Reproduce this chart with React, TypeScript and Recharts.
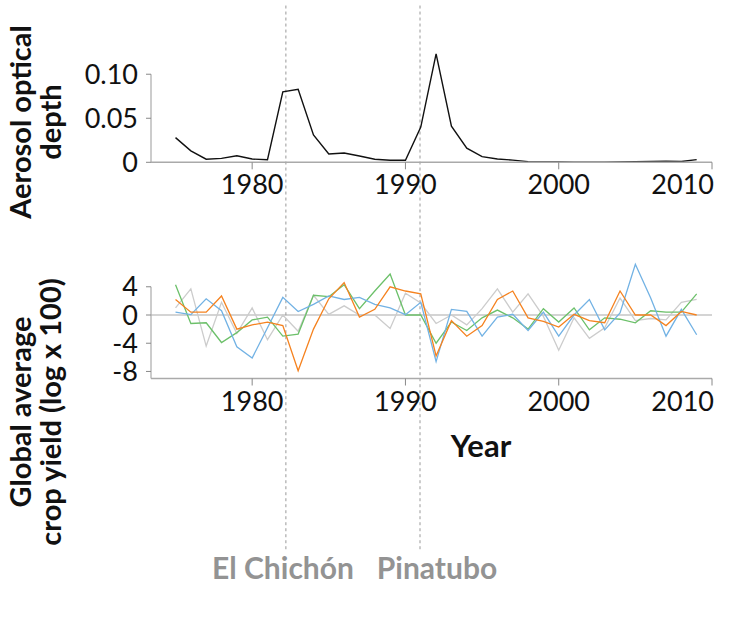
import React from "react";
import { LineChart, Line, XAxis, YAxis, ReferenceLine } from "recharts";

const years = [
  1975, 1976, 1977, 1978, 1979, 1980, 1981, 1982, 1983, 1984, 1985, 1986, 1987, 1988, 1989, 1990, 1991, 1992,
  1993, 1994, 1995, 1996, 1997, 1998, 1999, 2000, 2001, 2002, 2003, 2004, 2005, 2006, 2007, 2008, 2009,
];

const aerosolDepth = [
  0.028, 0.013, 0.0035, 0.0045, 0.0075, 0.0037, 0.003, 0.08, 0.083, 0.031, 0.0094, 0.0105, 0.0072, 0.0034,
  0.0023, 0.0023, 0.04, 0.123, 0.041, 0.016, 0.0064, 0.0037, 0.0025, 0.0008, 0.0004, 0.0003, 0.0002, 0.0001,
  0.0002, 0.0003, 0.0006, 0.001, 0.0013, 0.0009, 0.003,
];

const yieldBlue = [
  0.4, 0.05, 2.3, 0.6, -4.5, -6.1, -1.8, 2.5, 0.5, 1.5, 2.7, 2.2, 2.5, 1.5, 1.0, 0.05, 1.8, -6.6, 0.8, 0.5,
  -3.0, -0.3, 0.1, -2.2, 0.4, -3.0, 0, 2.2, -2.1, 0.3, 7.2, 2.4, -3.0, 0.8, -2.8,
];
const yieldOrange = [
  2.2, 0.4, 0.4, 2.7, -2.0, -1.4, -1.0, -1.5, -7.9, -2.0, 2.3, 4.6, -0.3, 0.8, 4.0, 3.4, 3.0, -5.8, -0.8,
  -3.0, -1.5, 2.2, 3.4, -0.4, -0.9, -1.7, 0.1, -0.8, -1.1, 3.4, 0, 0, -1.5, 0.5, 0,
];
const yieldGreen = [
  4.3, -1.2, -1.1, -3.9, -2.5, -0.7, -0.3, -3.0, -2.7, 2.8, 2.6, 4.3, 0.9, 3.4, 5.8, 0, 0, -4.0, -1.0, -2.2,
  -0.4, 0.7, -0.4, -2.0, 0.9, -1.0, 1.0, -2.1, -0.4, -0.6, -1.1, 0.6, 0.4, 0.4, 3.0,
];
const yieldGray = [
  1.0, 3.7, -4.4, 1.8, -2.6, 1.0, -3.5, 0, -2.3, 2.8, 0.1, 1.3, 0, 0, -1.9, 3.1, 1.7, -1.2, 0, -1.4, 0.9,
  3.7, 0.4, 3.0, -0.2, -5.0, -0.4, -3.3, -1.8, 2.4, -0.8, -0.5, -0.7, 1.8, 2.2,
];

const yearTicks = [1980, 1990, 2000, 2010];
const aerosolTicks = [0, 0.05, 0.1];
const yieldTicks = [4, 0, -4, -8];
const eruptions = [
  { name: "El Chichón", year: 1982.2 },
  { name: "Pinatubo", year: 1990.95 },
];

const rows = years.map((year, i) => ({
  year,
  aod: aerosolDepth[i],
  blue: yieldBlue[i],
  orange: yieldOrange[i],
  green: yieldGreen[i],
  gray: yieldGray[i],
}));

const xDomain: [number, number] = [1973.4, 2010];
const axisGray = "#aaaaaa";
const tickFont = { fill: "#111", fontSize: 27, fontFamily: "Lato" };

// last year label sits flush against the end of the axis, like the original
function YearTick(props: any) {
  const { x, y, payload } = props;
  const last = payload.value === xDomain[1];
  return (
    <text
      x={last ? x + 2 : x}
      y={y}
      dy="0.71em"
      textAnchor={last ? "end" : "middle"}
      fill={tickFont.fill}
      fontSize={tickFont.fontSize}
      fontFamily={tickFont.fontFamily}
    >
      {payload.value}
    </text>
  );
}

const labelStyle: React.CSSProperties = {
  position: "absolute",
  transform: "translate(-50%, -50%)",
  whiteSpace: "nowrap",
  fontFamily: "Lato",
  fontWeight: 700,
  lineHeight: 1,
};

const rotatedStyle: React.CSSProperties = {
  ...labelStyle,
  transform: "translate(-50%, -50%) rotate(-90deg)",
  textAlign: "center",
  fontSize: 29,
  lineHeight: "30px",
  color: "#111",
};

export default function App() {
  return (
    <div style={{ position: "absolute", left: 0, top: 0, width: 730, height: 618, background: "#fff", fontFamily: "Lato" }}>
      <div style={{ position: "absolute", left: 0, top: 0 }}>
        <LineChart width={730} height={230} data={rows} margin={{ top: 39, right: 18, bottom: 27.7, left: 71 }}>
          <XAxis
            dataKey="year"
            type="number"
            domain={xDomain}
            ticks={yearTicks}
            interval={0}
            tick={<YearTick />}
            tickSize={7}
            tickMargin={6}
            height={40}
            axisLine={{ stroke: axisGray, strokeWidth: 1.5 }}
            tickLine={{ stroke: "#888" }}
          />
          <YAxis
            type="number"
            domain={[0, 0.14]}
            ticks={aerosolTicks}
            interval={0}
            tickFormatter={(v: number) => (v === 0 ? "0" : v.toFixed(2))}
            tick={tickFont}
            tickSize={5}
            tickMargin={8}
            width={80}
            axisLine={false}
            tickLine={{ stroke: "#888" }}
          />
          <ReferenceLine
            segment={[
              { x: xDomain[0], y: 0 },
              { x: xDomain[0], y: 0.1 },
            ]}
            stroke="#999"
            ifOverflow="visible"
          />
          {eruptions.map((e) => (
            <ReferenceLine
              key={e.name}
              segment={[
                { x: e.year, y: 0.178 },
                { x: e.year, y: -0.1 },
              ]}
              stroke="#999"
              strokeDasharray="3 3"
              ifOverflow="visible"
            />
          ))}
          <Line dataKey="aod" stroke="#111" strokeWidth={1.4} dot={false} isAnimationActive={false} />
        </LineChart>
      </div>

      <div style={{ position: "absolute", left: 0, top: 230 }}>
        <LineChart width={730} height={388} data={rows} margin={{ top: 21.5, right: 18, bottom: 199.5, left: 71 }}>
          <XAxis
            dataKey="year"
            type="number"
            domain={xDomain}
            ticks={yearTicks}
            interval={0}
            tick={<YearTick />}
            tickSize={7}
            tickMargin={6}
            height={40}
            axisLine={{ stroke: axisGray, strokeWidth: 1.5 }}
            tickLine={{ stroke: "#888" }}
          />
          <YAxis
            type="number"
            domain={[-9, 9]}
            ticks={yieldTicks}
            interval={0}
            tick={tickFont}
            tickSize={5}
            tickMargin={8}
            width={80}
            axisLine={false}
            tickLine={{ stroke: "#888" }}
          />
          <ReferenceLine
            segment={[
              { x: xDomain[0], y: -9 },
              { x: xDomain[0], y: 4 },
            ]}
            stroke="#999"
            ifOverflow="visible"
          />
          <ReferenceLine y={0} stroke={axisGray} strokeWidth={1.2} />
          {eruptions.map((e) => (
            <ReferenceLine
              key={e.name}
              segment={[
                { x: e.year, y: 14 },
                { x: e.year, y: -33.6 },
              ]}
              stroke="#999"
              strokeDasharray="3 3"
              ifOverflow="visible"
            />
          ))}
          <Line dataKey="gray" stroke="#cccccc" strokeWidth={1.3} dot={false} isAnimationActive={false} />
          <Line dataKey="green" stroke="#6cc06a" strokeWidth={1.3} dot={false} isAnimationActive={false} />
          <Line dataKey="blue" stroke="#72b2e4" strokeWidth={1.3} dot={false} isAnimationActive={false} />
          <Line dataKey="orange" stroke="#f5821f" strokeWidth={1.3} dot={false} isAnimationActive={false} />
        </LineChart>
      </div>

      <div style={{ ...rotatedStyle, left: 35, top: 122 }}>
        Aerosol optical
        <br />
        depth
      </div>
      <div style={{ ...rotatedStyle, left: 35, top: 412 }}>
        Global average
        <br />
        crop yield (log x 100)
      </div>
      <div style={{ ...labelStyle, left: 481, top: 445, fontSize: 31, color: "#111" }}>Year</div>
      {eruptions.map((e, i) => (
        <div key={e.name} style={{ ...labelStyle, left: i === 0 ? 283 : 437, top: 567, fontSize: 30, color: "#939393" }}>
          {e.name}
        </div>
      ))}
    </div>
  );
}
